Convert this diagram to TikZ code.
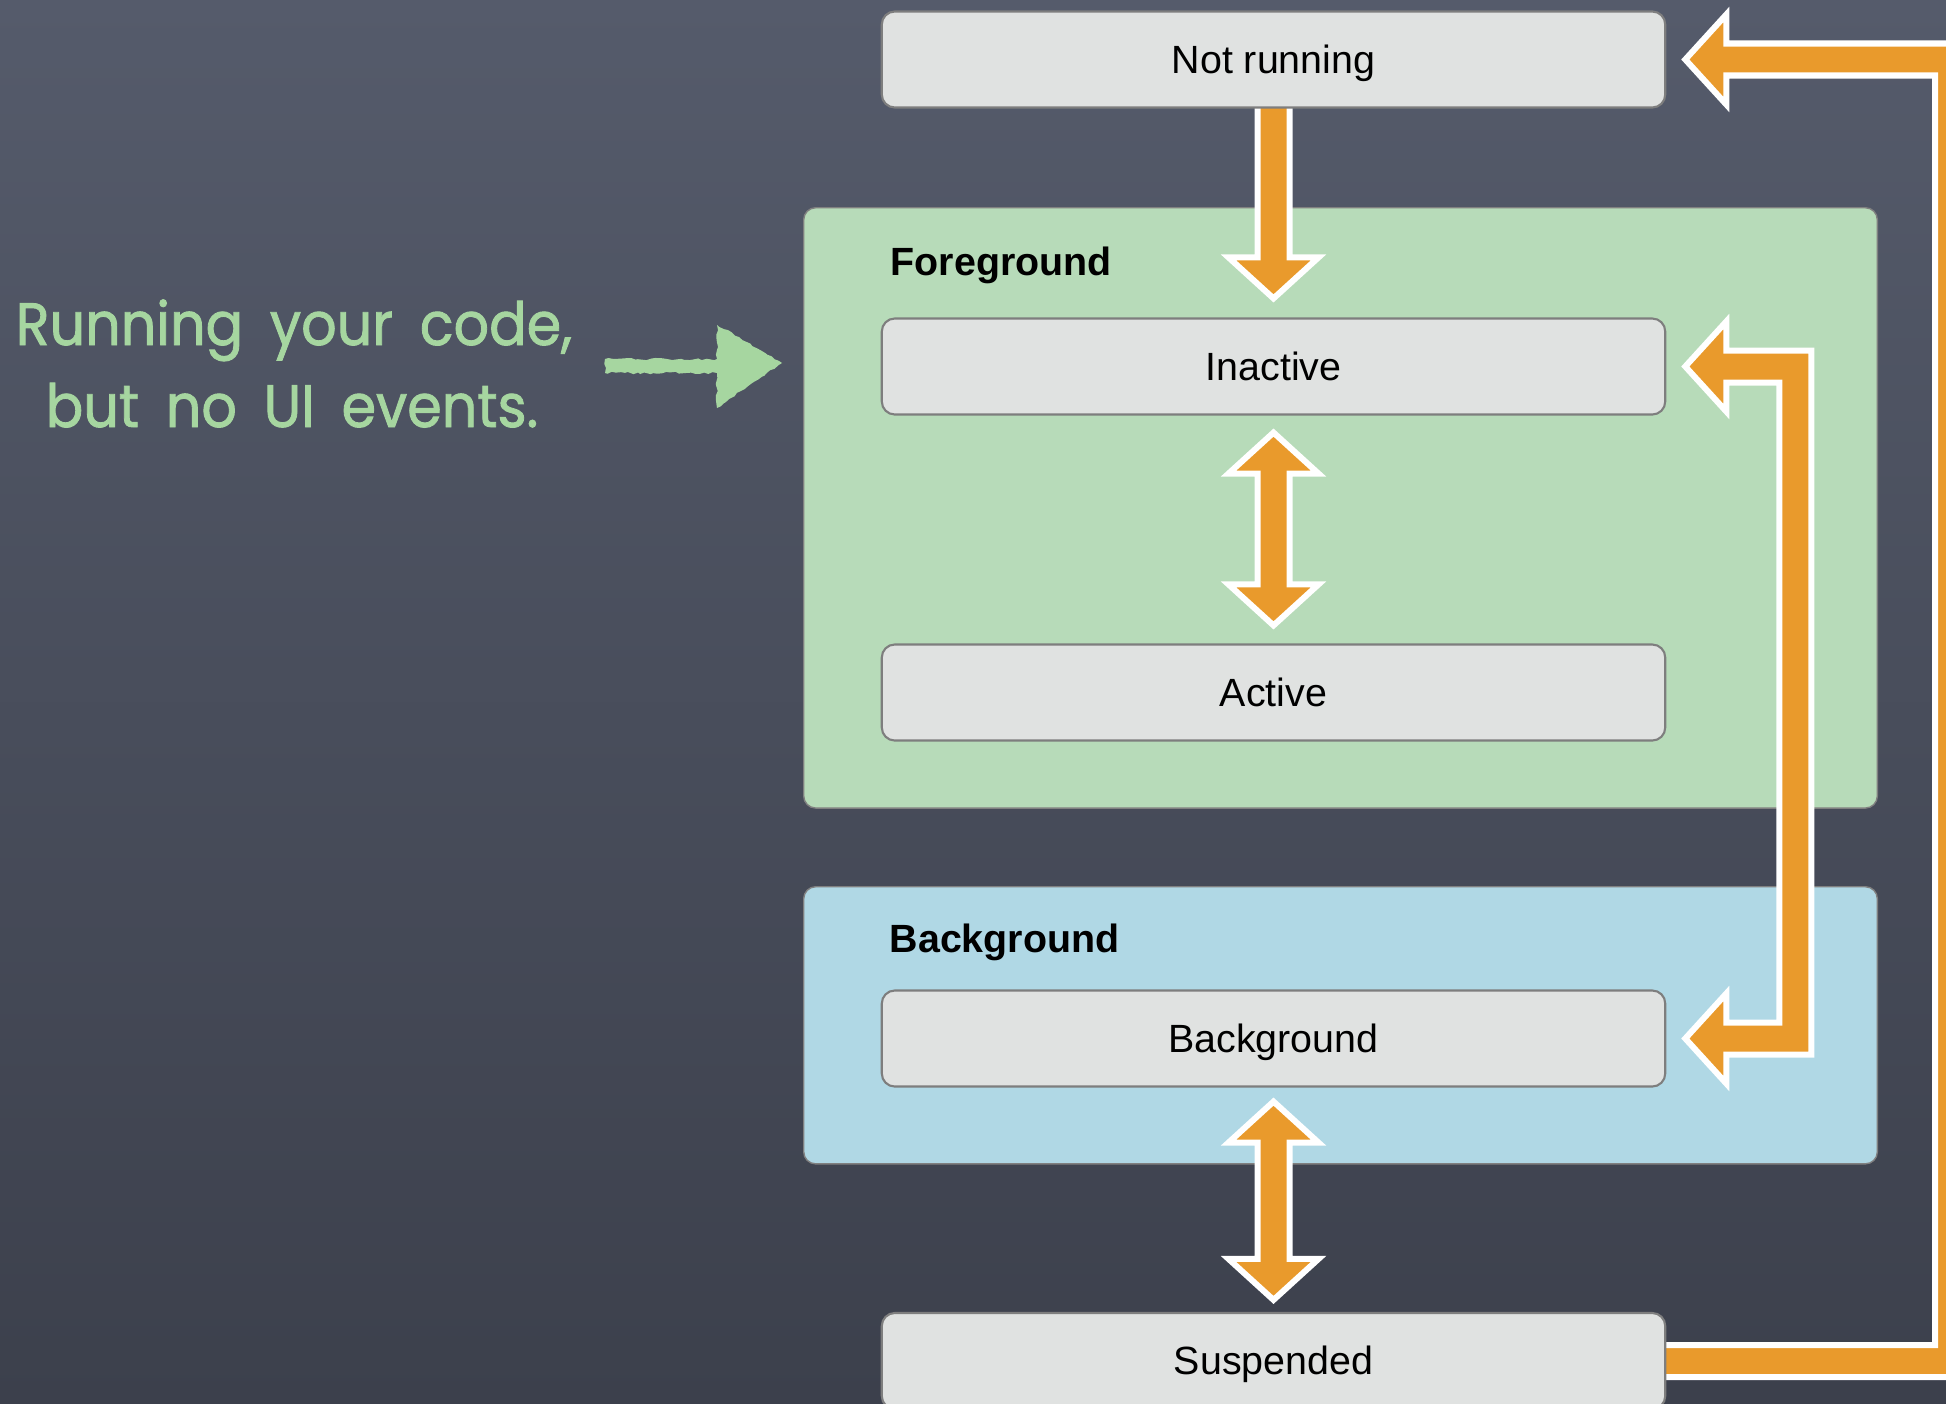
\documentclass[tikz,border=0pt]{standalone}
\usepackage{fontspec}
\setmainfont{Liberation Sans}
\newfontfamily\chalkfont[WordSpace=1.8,FakeBold=1.5]{Poppins}
\usetikzlibrary{calc,decorations.pathmorphing}

\definecolor{boardtop}{HTML}{555B6B}
\definecolor{boardbot}{HTML}{3C404C}
\definecolor{fggreen}{HTML}{B7DBB9}
\definecolor{bgblue}{HTML}{B0D8E5}
\definecolor{boxgray}{HTML}{E0E2E1}
\definecolor{boxedge}{HTML}{7E7E7E}
\definecolor{flow}{HTML}{E99A2C}
\definecolor{chalk}{HTML}{A6D6A0}

\pgfdeclarelayer{board}
\pgfdeclarelayer{groups}
\pgfdeclarelayer{flows}
\pgfsetlayers{board,groups,flows,main}

\tikzset{
  statebox/.style={draw=boxedge, fill=boxgray, line width=0.6pt,
    rounded corners=0.13cm, minimum width=7.83cm, minimum height=0.96cm,
    inner sep=0pt, text height=0.30cm, text depth=0.03cm,
    font=\fontsize{11.2}{13}\selectfont},
  groupbox/.style={draw=black!50, line width=0.4pt, rounded corners=0.12cm,
    anchor=north west, inner sep=0pt},
  grouplabel/.style={anchor=base west, inner sep=0pt,
    font=\bfseries\fontsize{11.2}{13}\selectfont},
  flowarrow/.style={fill=flow, draw=white, line width=0.06cm,
    line join=miter, miter limit=10},
  note/.style={text=chalk, inner sep=0pt, anchor=base, xscale=0.93,
    transform shape, font=\chalkfont\fontsize{17}{20}\selectfont},
}

% vertical two-headed flow arrow: #1 upper tip, #2 lower tip
\newcommand\flowdouble[2]{%
  \draw[flowarrow] (#1) -- ($(#1)+(45,41)$) -- ($(#1)+(16,41)$)
    -- ($(#2)+(16,-41)$) -- ($(#2)+(45,-41)$) -- (#2)
    -- ($(#2)+(-45,-41)$) -- ($(#2)+(-16,-41)$)
    -- ($(#1)+(-16,41)$) -- ($(#1)+(-45,41)$) -- cycle;}

\begin{document}
\begin{tikzpicture}[x=0.01cm, y=-0.01cm]
\useasboundingbox (0,0) rectangle (1946,1403);
\clip (0,0) rectangle (1946,1403);

% chalkboard
\begin{pgfonlayer}{board}
  \shade[top color=boardtop, bottom color=boardbot] (0,0) rectangle (1946,1403);
\end{pgfonlayer}

% state groups
\begin{pgfonlayer}{groups}
  \node[groupbox, fill=fggreen, minimum width=10.73cm, minimum height=6.00cm] (fg) at (803,207) {};
  \node[groupbox, fill=bgblue, minimum width=10.73cm, minimum height=2.77cm] (bgg) at (803,886) {};
\end{pgfonlayer}
\node[grouplabel] (fglabel) at ($(fg.north west)+(87,68)$) {Foreground};
\node[grouplabel] (bglabel) at ($(bgg.north west)+(86,66)$) {Background};

% states
\node[statebox] (nr)       at (1273.5,59.5)   {Not running};
\node[statebox] (inactive) at (1273.5,366.5)  {Inactive};
\node[statebox] (active)   at (1273.5,692.5)  {Active};
\node[statebox] (bgstate)  at (1273.5,1038.5) {Background};
\node[statebox] (susp)     at (1273.5,1361)   {Suspended};

% transitions
\coordinate (loopx) at (1951,0);
\begin{pgfonlayer}{flows}
  % launch: Not running -> Inactive
  \coordinate (s1) at ($(nr.south)+(0,-6)$);
  \coordinate (t1) at ($(inactive.north)+(0,-19)$);
  \draw[flowarrow] ($(s1)+(-16,0)$) -- ($(t1)+(-16,-41)$) -- ($(t1)+(-45,-41)$)
    -- (t1) -- ($(t1)+(45,-41)$) -- ($(t1)+(16,-41)$) -- ($(s1)+(16,0)$) -- cycle;

  % Inactive <-> Active
  \coordinate (ia1) at ($(inactive.south)+(0,17)$);
  \coordinate (ia2) at ($(active.north)+(0,-18)$);
  \flowdouble{ia1}{ia2}

  % Background <-> Suspended
  \coordinate (bs1) at ($(bgstate.south)+(0,14)$);
  \coordinate (bs2) at ($(susp.north)+(0,-12)$);
  \flowdouble{bs1}{bs2}

  % Inactive <-> Background, along the right side
  \coordinate (ti) at ($(inactive.east)+(19,0)$);
  \coordinate (tb) at ($(bgstate.east)+(19,0)$);
  \draw[flowarrow] (ti) -- ($(ti)+(41,-45)$) -- ($(ti)+(41,-16)$)
    -- ($(ti)+(126,-16)$) -- ($(tb)+(126,16)$) -- ($(tb)+(41,16)$)
    -- ($(tb)+(41,45)$) -- (tb) -- ($(tb)+(41,-45)$) -- ($(tb)+(41,-16)$)
    -- ($(tb)+(94,-16)$) -- ($(ti)+(94,16)$) -- ($(ti)+(41,16)$)
    -- ($(ti)+(41,45)$) -- cycle;

  % Suspended -> Not running, around the outside
  \coordinate (so) at ($(susp.east)+(-4,0)$);
  \coordinate (tn) at ($(nr.east)+(19,0)$);
  \draw[flowarrow] ($(so)+(0,-16)$) -- ($(loopx |- so)+(-16,-16)$)
    -- ($(loopx |- tn)+(-16,16)$) -- ($(tn)+(41,16)$) -- ($(tn)+(41,45)$)
    -- (tn) -- ($(tn)+(41,-45)$) -- ($(tn)+(41,-16)$)
    -- ($(loopx |- tn)+(16,-16)$) -- ($(loopx |- so)+(16,16)$)
    -- ($(so)+(0,16)$) -- cycle;
\end{pgfonlayer}

% chalk note
\node[note] (noteA) at (294,345) {Running your code,};
\node[note] (noteB) at (292,427) {but no UI events.};
\coordinate (chalkstart) at (605,366);
\coordinate (chalktip) at ($(fg.west |- chalkstart)+(-21,-3)$);
\fill[chalk, decorate, decoration={random steps, segment length=1.2pt, amplitude=0.35pt}]
  ($(chalkstart)+(0,-7)$) -- ($(chalktip)+(-65,-4)$) -- ($(chalktip)+(-65,-38)$)
  -- (chalktip) -- ($(chalktip)+(-65,45)$) -- ($(chalktip)+(-65,10)$)
  -- ($(chalkstart)+(0,7)$) -- cycle;
\end{tikzpicture}
\end{document}
